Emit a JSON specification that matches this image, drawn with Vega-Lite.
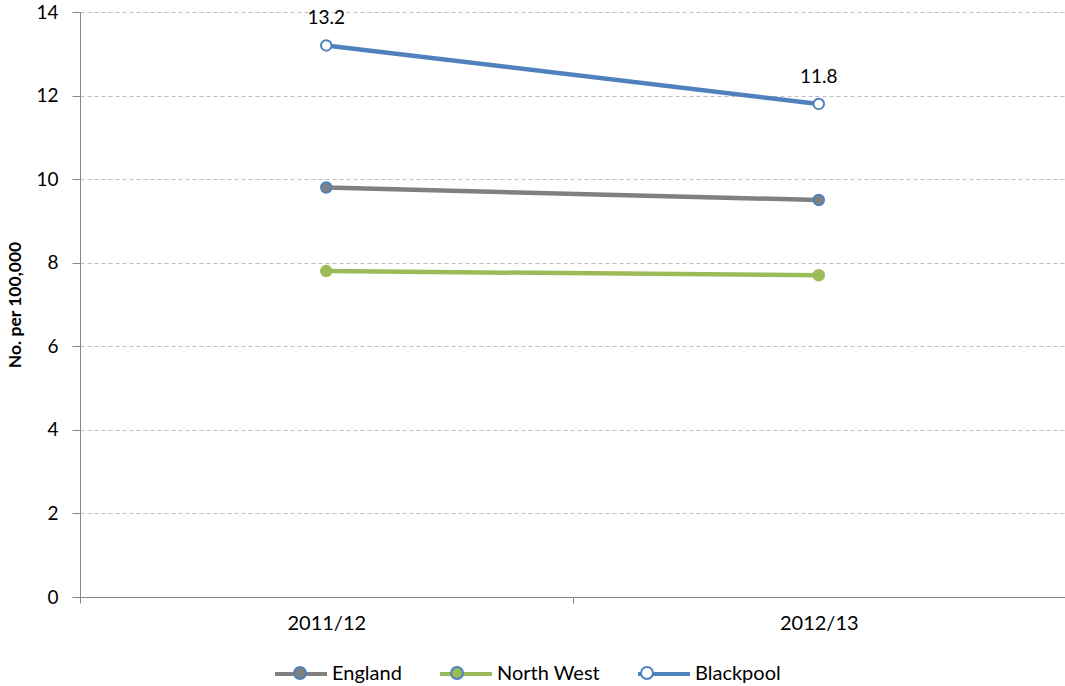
{
  "$schema": "https://vega.github.io/schema/vega-lite/v6.json",
  "width": 985,
  "height": 585,
  "autosize": {"type": "none"},
  "padding": {"left": 80, "top": 12, "right": 0, "bottom": 89},
  "background": "white",
  "config": {"view": {"stroke": null}, "font": "Lato"},
  "data": {
    "values": [
      {"series": "England", "year": "2011/12", "value": 9.8},
      {"series": "England", "year": "2012/13", "value": 9.5},
      {"series": "North West", "year": "2011/12", "value": 7.8},
      {"series": "North West", "year": "2012/13", "value": 7.7},
      {"series": "Blackpool", "year": "2011/12", "value": 13.2},
      {"series": "Blackpool", "year": "2012/13", "value": 11.8}
    ]
  },
  "encoding": {
    "x": {
      "field": "year",
      "type": "nominal",
      "scale": {"paddingInner": 0, "paddingOuter": 0},
      "axis": {
        "title": null,
        "labelAngle": 0,
        "labelFontSize": 20,
        "labelColor": "#000000",
        "domainColor": "#868686",
        "tickColor": "#868686",
        "tickSize": 6,
        "tickBand": "extent",
        "labelPadding": 10,
        "grid": false
      }
    },
    "y": {
      "field": "value",
      "type": "quantitative",
      "scale": {"domain": [0, 14], "nice": false},
      "axis": {
        "values": [0, 2, 4, 6, 8, 10, 12, 14],
        "title": "No. per 100,000",
        "titleFontSize": 17.5,
        "titleFontWeight": "bold",
        "titleColor": "#000000",
        "titlePadding": 11,
        "labelFontSize": 19,
        "labelColor": "#000000",
        "tickSize": 8,
        "labelPadding": 14,
        "gridDash": [4, 3],
        "gridColor": "#c0c0c0",
        "domainColor": "#868686",
        "tickColor": "#868686"
      }
    }
  },
  "layer": [
    {
      "mark": {"type": "line", "strokeWidth": 4.5},
      "encoding": {
        "stroke": {
          "field": "series",
          "type": "nominal",
          "scale": {"domain": ["England", "North West", "Blackpool"], "range": ["#808080", "#9BBB59", "#4F81BD"]},
          "legend": {
            "orient": "none",
            "legendX": 193,
            "legendY": 634,
            "direction": "horizontal",
            "title": null,
            "symbolType": "M-1,0H1",
            "symbolSize": 2704,
            "symbolStrokeWidth": 4,
            "labelFontSize": 20,
            "labelColor": "#000000",
            "labelOffset": 3,
            "columnPadding": 30,
            "padding": 0,
            "zindex": 1
          }
        }
      }
    },
    {
      "mark": {"type": "point", "filled": true, "size": 110, "strokeWidth": 2, "opacity": 1},
      "encoding": {
        "fill": {
          "field": "series",
          "type": "nominal",
          "sort": ["England", "North West", "Blackpool"],
          "scale": {"range": ["#808080", "#9BBB59", "#FFFFFF"]},
          "legend": {
            "orient": "none",
            "legendX": 193,
            "legendY": 634,
            "direction": "horizontal",
            "title": null,
            "symbolType": "M-0.23,0A0.23,0.23,0,1,1,0.23,0A0.23,0.23,0,1,1,-0.23,0Z",
            "symbolSize": 2704,
            "symbolStrokeWidth": 2,
            "labelFontSize": 20,
            "labelOpacity": 0,
            "labelOffset": 3,
            "columnPadding": 30,
            "padding": 0,
            "zindex": 2,
            "encode": {
              "symbols": {
                "update": {
                  "stroke": {"signal": "datum.value === 'North West' ? '#9BBB59' : '#4F81BD'"},
                  "strokeWidth": {"value": 2},
                  "opacity": {"value": 1}
                }
              }
            }
          }
        },
        "stroke": {
          "condition": {"test": "datum.series === 'North West'", "value": "#9BBB59"},
          "value": "#4F81BD"
        }
      }
    },
    {
      "transform": [{"filter": "datum.series === 'Blackpool'"}],
      "mark": {"type": "text", "dy": -27, "fontSize": 19, "color": "#000000"},
      "encoding": {"text": {"field": "value", "type": "quantitative", "format": ".1f"}}
    }
  ]
}
